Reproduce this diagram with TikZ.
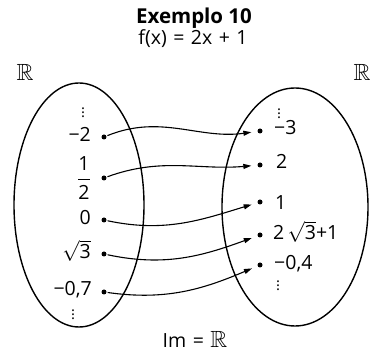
\documentclass[tikz,border=0pt]{standalone}
\usepackage{amssymb}
\usepackage{fontspec}
\setmainfont{Open Sans}
\usetikzlibrary{arrows.meta,shapes.geometric}
\newcommand{\RR}{\scalebox{1.2}{$\mathbb{R}$}}
\begin{document}
\begin{tikzpicture}[x=1pt,y=-1pt,
  txt/.style={font=\fontsize{19.5}{22}\selectfont, inner sep=0pt},
  vd/.style={font=\fontsize{15}{16}\selectfont\boldmath, inner sep=0pt},
  dotn/.style={circle, fill=black, inner sep=0pt, minimum size=5pt},
  setell/.style={draw=black, line width=1.4pt},
  arr/.style={line width=1.1pt, -{Triangle[length=8pt,width=5pt]}, shorten >=6pt, shorten <=1pt}]
\useasboundingbox (0,0) rectangle (370,352);
% titles
\node[txt, font=\fontsize{20.5}{24}\selectfont\bfseries, anchor=base] (title) at (194,24) {Exemplo 10};
\node[txt, anchor=base] (fx) at (193,45) {f(x)\,\,=\,\,2x\,\,+\,\,1};
\node[txt, anchor=base] (RL) at (25,81) {\RR};
\node[txt, anchor=base] (RR) at (362,81) {\RR};
\node[txt, anchor=base] (im) at (195,348) {Im\,\,=\,\,\RR};
% sets
\node[setell, ellipse, minimum width=130pt, minimum height=244pt, inner sep=0pt] (A) at (79,205) {};
\node[setell, ellipse, minimum width=146pt, minimum height=238pt, inner sep=0pt] (B) at (295,207) {};
% left points
\node[dotn] (l1) at (104,137) {};
\node[dotn] (l2) at (104,178) {};
\node[dotn] (l3) at (104,220) {};
\node[dotn] (l4) at (104,254) {};
\node[dotn] (l5) at (104,292) {};
\node[txt, anchor=base east] (tl1) at (91,142) {−2};
\node[txt, anchor=east] (tl2) at (91,178) {$\displaystyle\frac{\mbox{1}}{\mbox{2}}$};
\node[txt, anchor=base east] (tl3) at (91,225) {0};
\node[txt, anchor=base east] (tl4) at (91,259) {$\sqrt{\mbox{3}}$};
\node[txt, anchor=base east] (tl5) at (92,296) {−0,7};
\node[vd] (vl1) at (83,110) {$\vdots$};
\node[vd] (vl2) at (73,312) {$\vdots$};
% right points
\node[dotn] (r1) at (260,131) {};
\node[dotn] (r2) at (260,165) {};
\node[dotn] (r3) at (260,202) {};
\node[dotn] (r4) at (260,235) {};
\node[dotn] (r5) at (260,265) {};
\node[txt, anchor=base west] (tr1) at (274,135) {−3};
\node[txt, anchor=base west] (tr2) at (276,169) {2};
\node[txt, anchor=base west] (tr3) at (275,210) {1};
\node[txt, anchor=base west] (tr4) at (273,240) {2\,$\sqrt{\mbox{3}}$+1};
\node[txt, anchor=base west] (tr5) at (274,270) {−0,4};
\node[vd] (vr1) at (279,111) {$\vdots$};
\node[vd] (vr2) at (278,283) {$\vdots$};
% arrows
\draw[arr] (l1) to[out=22,in=188] (r1);
\draw[arr] (l2) to[out=20,in=185] (r2);
\draw[arr] (l3) to[out=-12,in=197] (r3);
\draw[arr] (l4) to[out=-12,in=200] (r4);
\draw[arr] (l5) to[out=-8,in=203] (r5);
\end{tikzpicture}
\end{document}
